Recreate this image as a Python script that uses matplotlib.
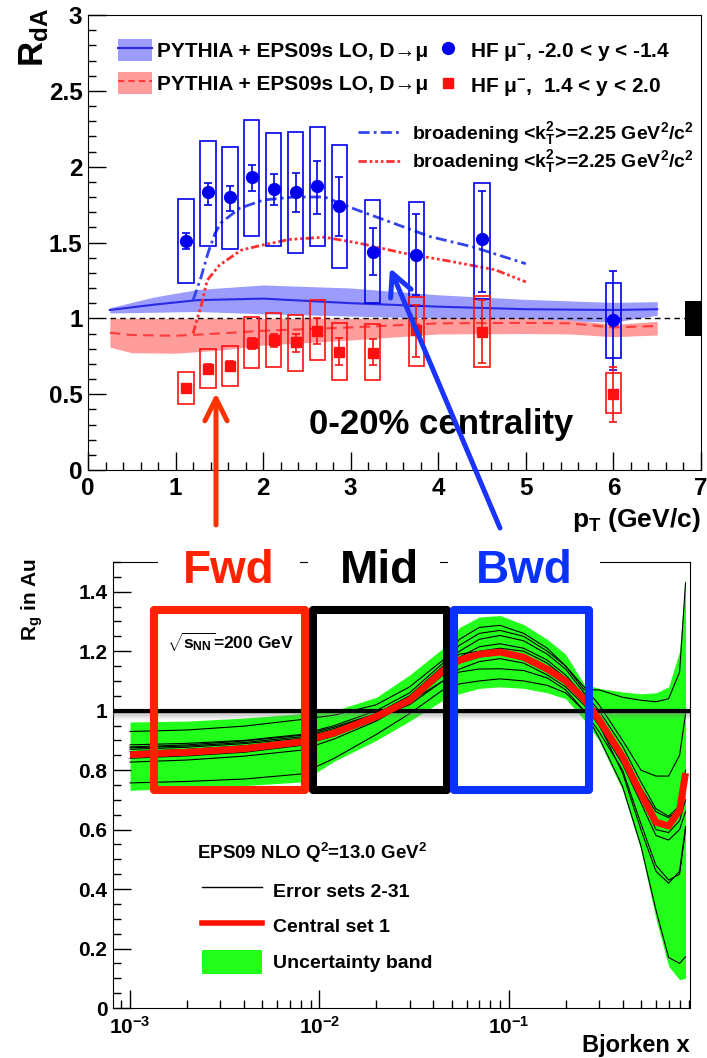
import matplotlib
matplotlib.use("Agg")
import matplotlib.pyplot as plt
from matplotlib.patches import Patch, Rectangle, FancyArrowPatch
from matplotlib.lines import Line2D
from matplotlib.ticker import MultipleLocator, LogLocator, NullFormatter, FuncFormatter

plt.rcParams["font.family"] = ["Liberation Sans", "DejaVu Sans"]
plt.rcParams["font.weight"] = "bold"
plt.rcParams["mathtext.fontset"] = "custom"
for key in ("rm", "it", "bf", "sf"):
    plt.rcParams["mathtext." + key] = "Liberation Sans:bold"

# ---------------- top panel data (R_dA vs pT) ----------------
pt = [1.12, 1.37, 1.62, 1.87, 2.12, 2.37, 2.62, 2.87, 3.25, 3.75, 4.5, 6.0]

bwd_val = [1.51, 1.83, 1.80, 1.93, 1.85, 1.83, 1.87, 1.74, 1.44, 1.42, 1.52, 0.99]
bwd_stat_hi = [1.56, 1.895, 1.875, 2.013, 1.95, 1.957, 2.035, 1.93, 1.595, 1.685, 1.842, 1.315]
bwd_stat_lo = [1.46, 1.75, 1.71, 1.84, 1.745, 1.70, 1.69, 1.545, 1.286, 1.154, 1.176, 0.66]
bwd_sys_hi = [1.79, 2.17, 2.13, 2.31, 2.22, 2.23, 2.26, 2.14, 1.78, 1.77, 1.895, 1.235]
bwd_sys_lo = [1.23, 1.48, 1.46, 1.54, 1.48, 1.43, 1.48, 1.33, 1.10, 1.08, 1.13, 0.74]

fwd_val = [0.54, 0.665, 0.686, 0.835, 0.857, 0.842, 0.918, 0.78, 0.773, 0.92, 0.912, 0.50]
fwd_stat_hi = [0.57, 0.70, 0.72, 0.87, 0.894, 0.896, 1.004, 0.872, 0.866, 1.088, 1.12, 0.68]
fwd_stat_lo = [0.51, 0.63, 0.65, 0.80, 0.809, 0.779, 0.83, 0.69, 0.69, 0.747, 0.703, 0.318]
fwd_sys_hi = [0.644, 0.796, 0.82, 1.006, 1.033, 1.024, 1.119, 0.971, 0.96, 1.143, 1.147, 0.637]
fwd_sys_lo = [0.433, 0.539, 0.554, 0.67, 0.677, 0.653, 0.723, 0.593, 0.593, 0.686, 0.677, 0.374]

bband_x = [0.25, 0.75, 1.25, 2.0, 3.0, 4.0, 5.0, 6.0, 6.5]
bband_mid = [1.055, 1.09, 1.12, 1.13, 1.10, 1.077, 1.06, 1.055, 1.06]
bband_hi = [1.07, 1.14, 1.19, 1.22, 1.20, 1.155, 1.125, 1.105, 1.11]
bband_lo = [1.035, 1.04, 1.045, 1.03, 1.015, 1.0, 0.99, 0.975, 1.02]

rband_x = [0.25, 0.5, 1.0, 1.5, 2.0, 3.0, 4.0, 5.0, 5.5, 6.0, 6.5]
rband_mid = [0.905, 0.89, 0.885, 0.90, 0.918, 0.94, 0.967, 0.97, 0.967, 0.94, 0.95]
rband_hi = [1.0, 1.0, 1.0, 1.0, 1.0, 1.0, 1.0, 1.0, 0.99, 0.96, 0.98]
rband_lo = [0.81, 0.773, 0.77, 0.79, 0.824, 0.857, 0.897, 0.90, 0.897, 0.879, 0.89]

bbroad_x = [1.2, 1.29, 1.37, 1.45, 1.52, 1.73, 2.0, 2.35, 2.7, 3.07, 3.38, 3.9, 4.4, 5.0]
bbroad_y = [1.12, 1.27, 1.43, 1.56, 1.63, 1.725, 1.78, 1.80, 1.80, 1.715, 1.65, 1.54, 1.47, 1.36]
rbroad_x = [1.2, 1.3, 1.36, 1.5, 1.75, 2.0, 2.3, 2.7, 3.1, 3.6, 4.1, 4.65, 5.0]
rbroad_y = [0.90, 1.10, 1.25, 1.35, 1.45, 1.484, 1.52, 1.535, 1.495, 1.43, 1.38, 1.32, 1.24]

norm_pt = 6.91
norm_lo, norm_hi = 0.885, 1.114

# ---------------- bottom panel data (EPS09 R_g vs x) ----------------
bx = [0.001, 0.002, 0.004, 0.008, 0.012, 0.02, 0.03, 0.045, 0.055, 0.07, 0.09,
      0.12, 0.16, 0.2, 0.25, 0.3, 0.4, 0.5, 0.6, 0.7, 0.8, 0.86]
central = [0.852, 0.860, 0.872, 0.895, 0.925, 0.98, 1.035, 1.135, 1.17, 1.19, 1.197,
           1.18, 1.14, 1.10, 1.04, 0.97, 0.845, 0.72, 0.625, 0.612, 0.665, 0.79]
band_hi = [0.962, 0.965, 0.975, 0.99, 1.0, 1.045, 1.12, 1.21, 1.28, 1.315, 1.32,
           1.29, 1.24, 1.19, 1.09, 1.075, 1.063, 1.057, 1.06, 1.08, 1.2, 1.45]
band_lo = [0.732, 0.74, 0.748, 0.76, 0.83, 0.9, 0.965, 1.035, 1.057, 1.075, 1.08,
           1.075, 1.06, 1.04, 0.97, 0.9, 0.732, 0.531, 0.3, 0.14, 0.095, 0.10]
error_sets = [
    [0.93, 0.935, 0.948, 0.97, 0.985, 1.02, 1.08, 1.17, 1.24, 1.28, 1.287,
     1.26, 1.21, 1.15, 1.07, 1.07, 1.045, 1.035, 1.03, 1.04, 1.13, 1.43],
    [0.878, 0.885, 0.898, 0.917, 0.945, 0.99, 1.05, 1.15, 1.2, 1.24, 1.253,
     1.235, 1.19, 1.14, 1.06, 1.0, 0.88, 0.76, 0.67, 0.645, 0.68, 0.8],
    [0.87, 0.877, 0.889, 0.907, 0.935, 0.985, 1.04, 1.14, 1.18, 1.215, 1.225,
     1.21, 1.17, 1.12, 1.05, 0.975, 0.86, 0.74, 0.66, 0.64, 0.67, 0.74],
    [0.84, 0.848, 0.86, 0.883, 0.915, 0.97, 1.025, 1.12, 1.16, 1.18, 1.19,
     1.17, 1.13, 1.09, 1.03, 0.96, 0.83, 0.71, 0.6, 0.59, 0.63, 0.7],
    [0.827, 0.834, 0.847, 0.867, 0.905, 0.965, 1.03, 1.10, 1.14, 1.165, 1.175,
     1.16, 1.12, 1.08, 1.02, 0.95, 0.82, 0.69, 0.58, 0.565, 0.6, 0.66],
    [0.757, 0.762, 0.77, 0.787, 0.84, 0.92, 0.99, 1.07, 1.09, 1.1, 1.107,
     1.1, 1.085, 1.06, 1.0, 0.93, 0.8, 0.62, 0.48, 0.43, 0.45, 0.6],
    [0.862, 0.87, 0.882, 0.903, 0.93, 0.975, 1.02, 1.1, 1.13, 1.14, 1.141,
     1.135, 1.11, 1.07, 1.0, 0.91, 0.745, 0.545, 0.33, 0.17, 0.15, 0.172],
    [0.875, 0.881, 0.893, 0.912, 0.94, 0.99, 1.045, 1.145, 1.19, 1.2, 1.21,
     1.2, 1.16, 1.11, 1.04, 0.955, 0.79, 0.6, 0.46, 0.42, 0.46, 0.61],
    [0.885, 0.89, 0.9, 0.92, 0.95, 1.0, 1.06, 1.16, 1.22, 1.26, 1.27,
     1.25, 1.2, 1.15, 1.08, 1.02, 0.9, 0.8, 0.78, 0.78, 0.85, 0.99],
]
regions = [("Fwd", 1.34e-3, 8.4e-3, "#ff2200"),
           ("Mid", 9.27e-3, 0.0475, "black"),
           ("Bwd", 0.0515, 0.267, "#0a32ff")]
region_y = (0.734, 1.339)

BLUE = "#0000ee"
RED = "#ff1010"

fig = plt.figure(figsize=(7.07, 10.58), dpi=100)
W, H = 707, 1058
ax1 = fig.add_axes([88 / W, 1 - 470 / H, 613 / W, 455 / H])
ax2 = fig.add_axes([113 / W, 1 - 1008 / H, 577 / W, 446 / H])

# ---------------- top panel ----------------
ax1.fill_between(bband_x, bband_lo, bband_hi, color="#9c9cfc", lw=0, zorder=1)
ax1.fill_between(rband_x, rband_lo, rband_hi, color="#ff9c9c", lw=0, zorder=1)
ax1.plot(bband_x, bband_mid, color="#2a2ae6", lw=1.5, zorder=2)
ax1.plot(rband_x, rband_mid, color="#ff3a3a", lw=1.5, ls=(0, (5, 3)), zorder=2)
ax1.axhline(1.0, xmin=0.25 / 7, color="black", lw=1, ls=(0, (4, 3)), zorder=2)

ax1.plot(bbroad_x, bbroad_y, color="#3344ee", lw=2, ls=(0, (4, 1.5, 1, 1.5)), zorder=3)
ax1.plot(rbroad_x, rbroad_y, color="#ff3030", lw=2,
         ls=(0, (3, 1, 1, 1, 1, 1, 1, 1)), zorder=3)

for vals, lo, hi, slo, shi, col, mk, ms in (
    (bwd_val, bwd_stat_lo, bwd_stat_hi, bwd_sys_lo, bwd_sys_hi, BLUE, "o", 8.5),
    (fwd_val, fwd_stat_lo, fwd_stat_hi, fwd_sys_lo, fwd_sys_hi, RED, "s", 7),
):
    ax1.bar(pt, [h - l for h, l in zip(shi, slo)], bottom=slo, width=0.176,
            fill=False, edgecolor=col, lw=1.2, zorder=4)
    ax1.errorbar(pt, vals, yerr=[[v - l for v, l in zip(vals, lo)],
                                 [h - v for v, h in zip(vals, hi)]],
                 fmt=mk, ms=ms, color=col, ecolor=col, elinewidth=1.2,
                 capsize=3, capthick=1.2, zorder=5)

ax1.bar(norm_pt, norm_hi - norm_lo, bottom=norm_lo, width=0.18, color="black",
        clip_on=False, zorder=6)

ax1.set_xlim(0, 7)
ax1.set_ylim(0, 3)
ax1.xaxis.set_major_locator(MultipleLocator(1))
ax1.xaxis.set_minor_locator(MultipleLocator(0.2))
ax1.yaxis.set_major_locator(MultipleLocator(0.5))
ax1.yaxis.set_minor_locator(MultipleLocator(0.1))
ax1.yaxis.set_major_formatter(FuncFormatter(lambda v, p: f"{v:g}"))
ax1.tick_params(which="both", direction="in", width=1, top=False, right=False)
ax1.tick_params(which="major", length=13, labelsize=17.5)
ax1.tick_params(which="minor", length=6)
ax1.tick_params(axis="x", pad=5)
ax1.tick_params(axis="y", pad=4)

ax1.text(-0.088, 1.015, r"R$_{dA}$", transform=ax1.transAxes, rotation=90,
         ha="center", va="top", fontsize=25)
ax1.text(1.0, -0.11, r"p$_{T}$ (GeV/c)", transform=ax1.transAxes,
         ha="right", va="center", fontsize=19)
ax1.text(0.576, 0.099, "0-20% centrality", transform=ax1.transAxes,
         ha="center", va="center", fontsize=25)

band_b = (Patch(facecolor="#9c9cfc", lw=0), Line2D([], [], color="#2a2ae6", lw=1.5))
band_r = (Patch(facecolor="#ff9c9c", lw=0),
          Line2D([], [], color="#ff3a3a", lw=1.5, ls=(0, (3, 2))))
pt_b = Line2D([], [], color=BLUE, marker="o", ms=8.5, ls="none")
pt_r = Line2D([], [], color=RED, marker="s", ms=7, ls="none")
leg1 = ax1.legend([band_b, band_r, pt_b, pt_r],
                  ["PYTHIA + EPS09s LO, D\u2192\u03bc",
                   "PYTHIA + EPS09s LO, D\u2192\u03bc",
                   "HF \u03bc$^{-}$, -2.0 < y < -1.4",
                   "HF \u03bc$^{-}$,  1.4 < y < 2.0"],
                  ncol=2, loc="upper left", bbox_to_anchor=(0.049, 0.947),
                  frameon=False, fontsize=15, handlelength=1.63, handleheight=1.25,
                  handletextpad=0.24, columnspacing=0.15, labelspacing=0.5,
                  borderpad=0, borderaxespad=0)
ax1.add_artist(leg1)
br_b = Line2D([], [], color="#3344ee", lw=2, ls=(0, (4, 1.5, 1, 1.5)))
br_r = Line2D([], [], color="#ff3030", lw=2, ls=(0, (3, 1, 1, 1, 1, 1, 1, 1)))
ax1.legend([br_b, br_r],
           [r"broadening <k$^{2}_{T}$>=2.25 GeV$^{2}$/c$^{2}$"] * 2,
           loc="upper left", bbox_to_anchor=(0.4405, 0.77), frameon=False,
           fontsize=14, handlelength=2.27, handletextpad=0.5, labelspacing=0.1,
           borderpad=0, borderaxespad=0)

# ---------------- bottom panel ----------------
ax2.set_xscale("log")
ax2.fill_between(bx, band_lo, band_hi, color="#22ff1a", lw=0, zorder=1)
for es in error_sets:
    ax2.plot(bx, es, color="black", lw=0.8, zorder=2)
for off, a in ((0.006, 0.45), (0.012, 0.3), (0.018, 0.18), (0.024, 0.08)):
    ax2.axhline(1.0 - off, color="0.5", alpha=a, lw=2, zorder=3)
ax2.axhline(1.0, color="black", lw=3, zorder=3)
ax2.plot(bx, central, color="#ff1000", lw=5, zorder=4, solid_capstyle="butt")

for name, x0, x1, col in regions:
    ax2.add_patch(Rectangle((x0, region_y[0]), x1 - x0, region_y[1] - region_y[0],
                            fill=False, edgecolor=col, lw=5.8, joinstyle="round",
                            zorder=6))

ax2.set_xlim(8.13e-4, 0.908)
ax2.set_ylim(0, 1.5)
ax2.set_xticks([1e-3, 1e-2, 1e-1])
ax2.set_xticklabels([r"10$^{-3}$", r"10$^{-2}$", r"10$^{-1}$"])
ax2.xaxis.set_minor_locator(LogLocator(base=10, subs=range(2, 10)))
ax2.xaxis.set_minor_formatter(NullFormatter())
ax2.yaxis.set_major_locator(MultipleLocator(0.2))
ax2.yaxis.set_minor_locator(MultipleLocator(0.05))
ax2.yaxis.set_major_formatter(FuncFormatter(lambda v, p: f"{v:g}"))
ax2.tick_params(which="both", direction="in", width=1, top=False, right=False)
ax2.tick_params(which="major", length=13, labelsize=15)
ax2.tick_params(which="minor", length=6)
ax2.tick_params(axis="x", pad=6)
ax2.tick_params(axis="y", pad=4)

ax2.text(-0.14, 1.01, r"R$_{g}$ in Au", transform=ax2.transAxes, rotation=90,
         ha="center", va="top", fontsize=15)
ax2.text(1.0, -0.085, "Bjorken x", transform=ax2.transAxes,
         ha="right", va="center", fontsize=17)
ax2.text(0.0936, 0.82, r"$\sqrt{s_{NN}}$=200 GeV", transform=ax2.transAxes,
         ha="left", va="center", fontsize=12.5)
ax2.text(0.1456, 0.3475, r"EPS09 NLO Q$^{2}$=13.0 GeV$^{2}$", transform=ax2.transAxes,
         ha="left", va="center", fontsize=13.5)

ax2.legend([Line2D([], [], color="black", lw=1),
            Line2D([], [], color="#ff1000", lw=4),
            Patch(facecolor="#22ff1a", lw=0)],
           ["Error sets 2-31", "Central set 1", "Uncertainty band"],
           loc="upper left", bbox_to_anchor=(0.154, 0.2915), frameon=False,
           fontsize=14, handlelength=3.1, handleheight=1.55, handletextpad=0.57,
           labelspacing=0.59, borderpad=0, borderaxespad=0)

# white gaps in the top frame and the region titles
for x0, x1 in ((0.078, 0.324), (0.338, 0.567), (0.581, 0.844)):
    ax2.add_patch(Rectangle((x0, 0.98), x1 - x0, 0.05, transform=ax2.transAxes,
                            facecolor="white", edgecolor="none", clip_on=False,
                            zorder=7))
for (name, x0, x1, col), xc in zip(regions, (0.201, 0.461, 0.712)):
    ax2.text(xc, 0.953, name, transform=ax2.transAxes, ha="center",
             va="baseline", fontsize=33, color=col, zorder=8)

# arrows linking the panels
def fig_xy(px, py):
    return (px / W, 1 - py / H)

for tail, tip, col in (((216, 525), (216, 393), "#ff3300"),
                       ((500, 528), (390, 268), "#1a33ff")):
    fig.add_artist(FancyArrowPatch(fig_xy(*tail), fig_xy(*tip),
                                   transform=fig.transFigure,
                                   arrowstyle="->,head_length=16,head_width=8",
                                   mutation_scale=1, lw=3.6, color=col,
                                   shrinkA=0, shrinkB=0, zorder=10))

fig.savefig("out.png", dpi=100)
